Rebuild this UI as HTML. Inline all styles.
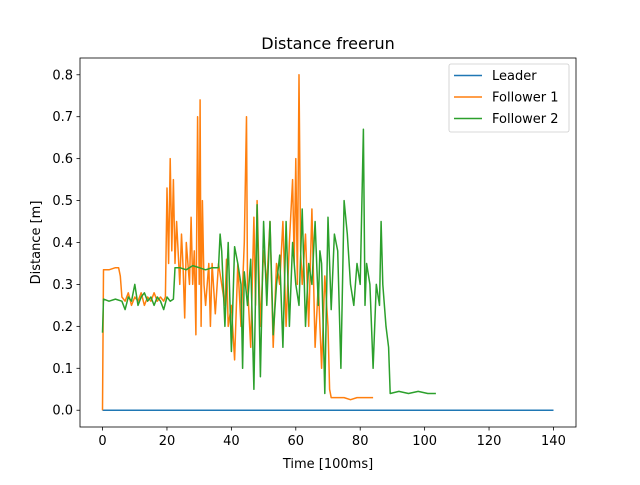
<!DOCTYPE html>
<html><head><meta charset="utf-8"><style>
body{margin:0;background:#fff}
svg{font-family:"DejaVu Sans","Liberation Sans",sans-serif}
</style></head><body>
<svg id="c" width="640" height="480">
<text x="328" y="49" text-anchor="middle" font-size="16">Distance freerun</text>
<g id="plot"></g>
</svg>
<script>
const xTicks=[0,20,40,60,80,100,120,140];
const yTicks=[0.0,0.1,0.2,0.3,0.4,0.5,0.6,0.7,0.8];
const seriesNames=["Leader","Follower 1","Follower 2"];
const colors=["#1f77b4","#ff7f0e","#2ca02c"];
const leaderX=[0,140];
const leaderY=[0,0];
const f1X=[0,0.3,2,4,5,5.5,6,7,8,9,10,11,12,13,14,15,16,17,18,19,19.5,20,20.5,21,21.5,22,22.5,23,24,24.5,25,25.5,26,27,27.5,28,28.5,29,29.5,30,30.3,30.6,31,31.5,32,33,33.5,34,35,36,37,38,38.5,39,40,41,42,43,44,44.7,45,46,47,47.5,48,49,50,51,52,53,54,55,56,57,58,59,59.5,60,60.5,61,61.5,62,63,64,65,66,67,68,69,70,70.5,71,73,75,77,79,81,83,84];
const f1Y=[0,0.335,0.335,0.34,0.34,0.32,0.27,0.26,0.28,0.25,0.27,0.26,0.28,0.25,0.27,0.26,0.28,0.26,0.27,0.26,0.27,0.53,0.35,0.6,0.38,0.55,0.35,0.45,0.3,0.42,0.34,0.22,0.4,0.3,0.46,0.3,0.38,0.18,0.7,0.3,0.74,0.2,0.5,0.3,0.25,0.35,0.2,0.35,0.23,0.35,0.3,0.25,0.36,0.2,0.25,0.12,0.35,0.2,0.4,0.7,0.3,0.15,0.46,0.25,0.5,0.2,0.38,0.3,0.45,0.15,0.35,0.3,0.45,0.2,0.4,0.55,0.35,0.6,0.3,0.8,0.38,0.3,0.42,0.2,0.48,0.15,0.3,0.1,0.32,0.2,0.05,0.03,0.03,0.03,0.025,0.03,0.03,0.03,0.03];
const f2X=[0,0.3,2,4,6,7,8,9,10,11,12,13,14,15,16,17,18,19,20,21,22,22.5,24,26,28,30,32,34,36,36.5,37,38,39,40,41,42,43,43.5,44,45,46,47,48,49,50,51,52,53,54,55,56,57,58,59,60,61,62,63,64,65,66,67,67.5,68,69,70,71,72,73,74,75,76,77,78,79,80,81,81.5,82,83,84,85,86,86.5,87,88,88.8,89.3,92,95,98,101,103.5];
const f2Y=[0.185,0.265,0.26,0.265,0.26,0.24,0.27,0.26,0.3,0.25,0.27,0.28,0.26,0.27,0.25,0.27,0.26,0.24,0.27,0.26,0.265,0.34,0.34,0.335,0.345,0.34,0.335,0.34,0.34,0.42,0.38,0.2,0.4,0.14,0.39,0.35,0.3,0.1,0.33,0.25,0.36,0.05,0.49,0.08,0.45,0.25,0.45,0.18,0.3,0.37,0.15,0.45,0.2,0.4,0.3,0.25,0.48,0.2,0.35,0.3,0.45,0.25,0.38,0.35,0.04,0.46,0.24,0.42,0.38,0.1,0.5,0.42,0.3,0.25,0.35,0.3,0.67,0.25,0.35,0.3,0.1,0.3,0.25,0.45,0.3,0.2,0.15,0.04,0.045,0.04,0.045,0.04,0.04];
const L=80,R=576,T=58,B=427,xmin=-7,xmax=147,ymin=-0.04,ymax=0.84;
const xs=v=>L+(v-xmin)/(xmax-xmin)*(R-L);
const ys=v=>B-(v-ymin)/(ymax-ymin)*(B-T);
const NS="http://www.w3.org/2000/svg";
const g=document.getElementById('plot');
function mk(t,a,p){const e=document.createElementNS(NS,t);for(const k in a)e.setAttribute(k,a[k]);(p||g).appendChild(e);return e;}
xTicks.forEach(v=>{
  const l=mk('line',{x1:xs(v),x2:xs(v),y1:B,y2:B+3.5,stroke:'#000','stroke-width':0.8});
  
  
  const t=mk('text',{x:xs(v),y:B+18,'text-anchor':'middle','font-size':13});
  t.textContent=v;
  
  
});
yTicks.forEach(v=>{
  const l=mk('line',{x1:L-3.5,x2:L,y1:ys(v),y2:ys(v),stroke:'#000','stroke-width':0.8});
  
  
  const t=mk('text',{x:L-7,y:ys(v)+4.5,'text-anchor':'end','font-size':13});
  t.textContent=v.toFixed(1);
  
  
});
const xl=mk('text',{x:(L+R)/2,y:468,'text-anchor':'middle','font-size':13});
xl.textContent='Time [100ms]';


const yl=mk('text',{x:0,y:0,'text-anchor':'middle','font-size':13,transform:`translate(40,${(T+B)/2}) rotate(-90)`});
yl.textContent='Distance [m]';


const data=[[leaderX,leaderY],[f1X,f1Y],[f2X,f2Y]];
data.forEach((d,i)=>{
  const pts=d[0].map((x,j)=>xs(x).toFixed(1)+','+ys(d[1][j]).toFixed(1)).join(' ');
  const p=mk('polyline',{points:pts,fill:'none',stroke:colors[i],'stroke-width':1.5,'stroke-linejoin':'round'});
  
  
});
const fr=mk('rect',{x:L,y:T,width:R-L,height:B-T,fill:'none',stroke:'#000','stroke-width':0.8});


const lg=mk('g',{});


mk('rect',{x:449,y:64,width:120,height:68,rx:2,fill:'#fff','fill-opacity':0.8,stroke:'#ccc','stroke-width':0.8},lg);
seriesNames.forEach((n,i)=>{
  const y=75.5+i*21.5;
  const e=mk('g',{},lg);
  
  
  mk('line',{x1:454,x2:482,y1:y,y2:y,stroke:colors[i],'stroke-width':1.5},e);
  const t=mk('text',{x:492,y:y+4.5,'font-size':13},e);
  t.textContent=n;
});
</script>
</body></html>
